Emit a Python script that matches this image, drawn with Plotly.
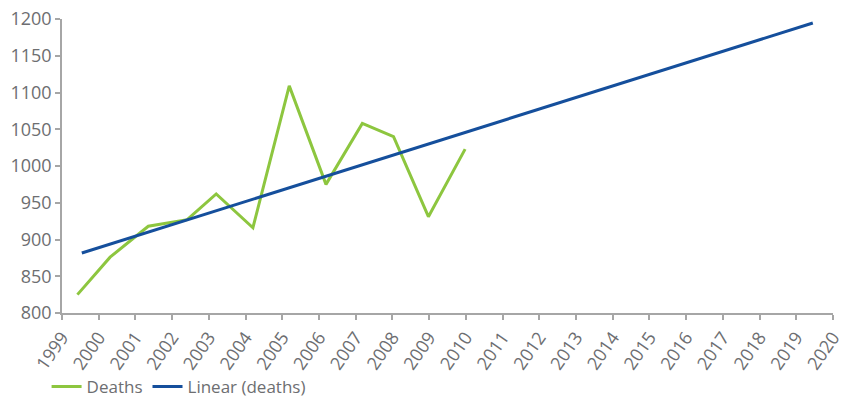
import plotly.graph_objects as go

# Data
death_years = [1999.42, 2000.31, 2001.35, 2002.41, 2003.2, 2004.2, 2005.19,
               2006.19, 2007.18, 2008.03, 2008.98, 2009.98]
deaths = [825, 876, 918, 927, 962, 916, 1109, 975, 1058, 1040, 931, 1023]

trend_years = [1999.54, 2019.45]
trend_values = [881.6, 1194.5]

x_ticks = list(range(1999, 2021))
y_ticks = list(range(800, 1201, 50))

GREEN = "#8dc63f"
BLUE = "#154f9c"
GREY_TXT = "#6d6e71"
GREY_AX = "#a6a6a6"
FONT = "Open Sans"

fig = go.Figure()
fig.add_trace(go.Scatter(x=death_years, y=deaths, mode="lines", name="Deaths",
                         line=dict(color=GREEN, width=3)))
fig.add_trace(go.Scatter(x=trend_years, y=trend_values, mode="lines",
                         name="Linear (deaths)",
                         line=dict(color=BLUE, width=3)))

fig.update_layout(
    width=852, height=397,
    margin=dict(l=62, r=19, t=19, b=84, autoexpand=False),
    plot_bgcolor="white", paper_bgcolor="white",
    font=dict(family=FONT, color=GREY_TXT, size=17),
    showlegend=True,
    legend=dict(orientation="h", x=-0.02, xanchor="left", y=-0.19, yanchor="top",
                font=dict(size=17, color=GREY_TXT), itemwidth=30,
                bgcolor="rgba(0,0,0,0)"),
)
fig.update_xaxes(range=[1999, 2020], tickvals=x_ticks,
                 ticktext=[str(v) for v in x_ticks], tickangle=-55,
                 automargin=False,
                 showgrid=False, zeroline=False, showline=True,
                 linecolor=GREY_AX, linewidth=1.5, ticks="outside",
                 ticklen=5, tickcolor=GREY_AX, tickwidth=1.5,
                 tickfont=dict(size=18, color=GREY_TXT, family=FONT))
fig.update_yaxes(range=[800, 1200], tickvals=y_ticks,
                 automargin=False,
                 showgrid=False, zeroline=False, showline=True,
                 linecolor=GREY_AX, linewidth=1.5, ticks="outside",
                 ticklen=5, tickcolor=GREY_AX, tickwidth=1.5,
                 tickfont=dict(size=18, color=GREY_TXT, family=FONT))

fig.write_html("out.html")
